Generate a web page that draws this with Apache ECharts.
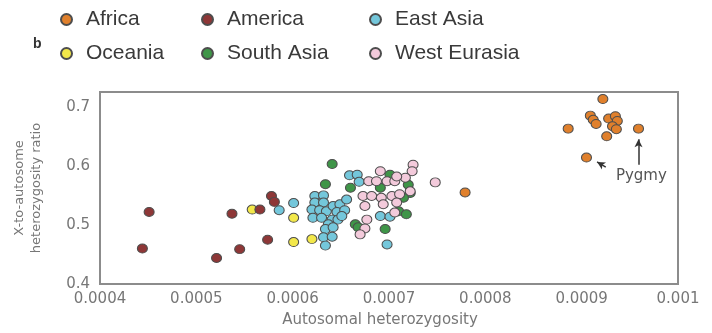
<!DOCTYPE html>
<html>
<head>
<meta charset="utf-8">
<script src="https://cdn.jsdelivr.net/npm/echarts@6/dist/echarts.min.js"></script>
<style>
  html, body { margin: 0; padding: 0; background: #fff; }
  #chart { width: 712px; height: 333px; }
</style>
</head>
<body>
<div id="chart"></div>
<script>
// Region names, in legend order
const regions = ['Africa', 'America', 'East Asia', 'Oceania', 'South Asia', 'West Eurasia'];

// [autosomal heterozygosity, X-to-autosome heterozygosity ratio] per population
const africa = [
  [0.000922, 0.713], [0.000886, 0.663], [0.000909, 0.685], [0.000912, 0.678],
  [0.000915, 0.671], [0.000928, 0.680], [0.000935, 0.684], [0.000937, 0.676],
  [0.000932, 0.667], [0.000936, 0.662], [0.000926, 0.650], [0.000959, 0.663],
  [0.000905, 0.614], [0.000779, 0.555]
];
const america = [
  [0.000451, 0.522], [0.000444, 0.460], [0.000537, 0.519], [0.000566, 0.526],
  [0.000578, 0.549], [0.000581, 0.539], [0.000574, 0.475], [0.000545, 0.459],
  [0.000521, 0.444]
];
const eastAsia = [
  [0.000586, 0.525], [0.000601, 0.537], [0.000623, 0.549], [0.000632, 0.550],
  [0.000623, 0.538], [0.000632, 0.538], [0.000620, 0.526], [0.000628, 0.525],
  [0.000635, 0.523], [0.000621, 0.512], [0.000630, 0.512], [0.000642, 0.532],
  [0.000649, 0.535], [0.000656, 0.543], [0.000646, 0.522], [0.000654, 0.525],
  [0.000641, 0.509], [0.000647, 0.509], [0.000637, 0.501], [0.000634, 0.493],
  [0.000642, 0.496], [0.000632, 0.479], [0.000641, 0.480], [0.000634, 0.465],
  [0.000659, 0.584], [0.000667, 0.585], [0.000669, 0.573], [0.000691, 0.515],
  [0.000701, 0.514], [0.000698, 0.467], [0.000651, 0.515]
];
const oceania = [
  [0.000558, 0.526], [0.000601, 0.512], [0.000601, 0.471], [0.000620, 0.476]
];
const southAsia = [
  [0.000641, 0.603], [0.000634, 0.569], [0.000660, 0.563], [0.000701, 0.585],
  [0.000691, 0.563], [0.000720, 0.568], [0.000722, 0.554], [0.000715, 0.546],
  [0.000710, 0.523], [0.000718, 0.518], [0.000665, 0.501], [0.000668, 0.496],
  [0.000696, 0.493]
];
const westEurasia = [
  [0.000725, 0.602], [0.000724, 0.591], [0.000717, 0.580], [0.000691, 0.591],
  [0.000679, 0.574], [0.000687, 0.574], [0.000698, 0.574], [0.000706, 0.574],
  [0.000673, 0.549], [0.000682, 0.549], [0.000692, 0.546], [0.000703, 0.549],
  [0.000711, 0.552], [0.000675, 0.532], [0.000694, 0.535], [0.000708, 0.538],
  [0.000748, 0.572], [0.000677, 0.509], [0.000675, 0.494], [0.000670, 0.484],
  [0.000706, 0.521], [0.000722, 0.557], [0.000708, 0.582]
];

// Axis ticks
const xTicks = [0.0004, 0.0005, 0.0006, 0.0007, 0.0008, 0.0009, 0.001];
const yTicks = [0.4, 0.5, 0.6, 0.7];

// Pygmy annotation: label anchor and arrows (data units)
const pygmyLabel = [0.000962, 0.582];
const pygmyArrows = [
  [[0.000959, 0.602], [0.000959, 0.645]],
  [[0.000925, 0.598], [0.000916, 0.6066]]
];

const colors = {
  'Africa': '#e0802c',
  'America': '#8e3737',
  'East Asia': '#74c7db',
  'Oceania': '#f3e84a',
  'South Asia': '#3f9548',
  'West Eurasia': '#f3cadb'
};
const seriesData = {
  'Africa': africa,
  'America': america,
  'East Asia': eastAsia,
  'Oceania': oceania,
  'South Asia': southAsia,
  'West Eurasia': westEurasia
};
// drawing order (later on top)
const drawOrder = ['Oceania', 'America', 'East Asia', 'South Asia', 'West Eurasia', 'Africa'];

const TICK_FONT = 'DejaVu Sans';

function fmtX(v) {
  const hit = xTicks.find(t => Math.abs(t - v) < 1e-9);
  return hit === undefined ? '' : String(hit);
}
function fmtY(v) {
  const hit = yTicks.find(t => Math.abs(t - v) < 1e-9);
  return hit === undefined ? '' : hit.toFixed(1);
}

// one legend block per entry, laid out in a 3 x 2 grid
const legendPos = {
  'Africa': [60, 9], 'America': [201, 9], 'East Asia': [369, 9],
  'Oceania': [60, 43], 'South Asia': [201, 43], 'West Eurasia': [369, 43]
};
const legends = regions.map(name => ({
  data: [name],
  left: legendPos[name][0],
  top: legendPos[name][1],
  padding: 0,
  selectedMode: false,
  icon: 'circle',
  itemWidth: 11,
  itemHeight: 11,
  textStyle: {
    fontFamily: 'Liberation Sans, Arial, sans-serif',
    fontSize: 21,
    color: '#3a3a3a',
    padding: [0, 0, 0, 9]
  }
}));

const series = drawOrder.map(name => {
  const s = {
    name: name,
    type: 'scatter',
    data: seriesData[name],
    symbol: 'circle',
    symbolSize: [10, 9],
    itemStyle: {
      color: colors[name],
      borderColor: '#4d4d4d',
      borderWidth: 1,
      opacity: 1
    },
    emphasis: { disabled: true }
  };
  if (name === 'Africa') {
    s.markLine = {
      silent: true,
      symbol: ['none', 'arrow'],
      symbolSize: [6, 8],
      label: { show: false },
      lineStyle: { color: '#333', width: 1.5, type: 'solid' },
      data: pygmyArrows.map(a => [{ coord: a[0] }, { coord: a[1] }])
    };
    s.markPoint = {
      silent: true,
      symbol: 'circle',
      symbolSize: 0,
      label: {
        show: true,
        position: 'inside',
        formatter: 'Pygmy',
        fontFamily: TICK_FONT,
        fontSize: 15,
        color: '#555'
      },
      data: [{ coord: pygmyLabel }]
    };
  }
  return s;
});

const chart = echarts.init(document.getElementById('chart'), null, { renderer: 'canvas' });
chart.setOption({
  animation: false,
  backgroundColor: '#fff',
  legend: legends,
  graphic: [{
    type: 'text',
    left: 33,
    top: 37,
    style: {
      text: 'b',
      font: 'bold 14px Liberation Sans, Arial, sans-serif',
      fill: '#333'
    }
  }],
  grid: {
    left: 100,
    right: 34,
    top: 92,
    bottom: 48,
    show: true,
    borderColor: '#8c8c8c',
    borderWidth: 2,
    backgroundColor: 'transparent'
  },
  xAxis: {
    type: 'value',
    min: 0.0004,
    max: 0.001,
    interval: 0.0001,
    axisLine: { show: false },
    axisTick: { show: false },
    splitLine: { show: false },
    axisLabel: {
      color: '#777',
      fontFamily: TICK_FONT,
      fontSize: 15,
      margin: 8,
      formatter: fmtX
    },
    name: 'Autosomal heterozygosity',
    nameLocation: 'middle',
    nameGap: 29,
    nameTextStyle: {
      color: '#777',
      fontFamily: TICK_FONT,
      fontSize: 15,
      padding: [0, 18, 0, 0]
    }
  },
  yAxis: {
    type: 'value',
    min: 0.4,
    max: 0.725,
    interval: 0.1,
    axisLine: { show: false },
    axisTick: { show: false },
    splitLine: { show: false },
    axisLabel: {
      color: '#777',
      fontFamily: TICK_FONT,
      fontSize: 15,
      margin: 10,
      formatter: fmtY
    },
    name: 'X-to-autosome\nheterozygosity ratio',
    nameLocation: 'middle',
    nameRotate: 90,
    nameGap: 55,
    nameTextStyle: {
      color: '#777',
      fontFamily: TICK_FONT,
      fontSize: 13,
      lineHeight: 17
    }
  },
  series: series
});
</script>
</body>
</html>
